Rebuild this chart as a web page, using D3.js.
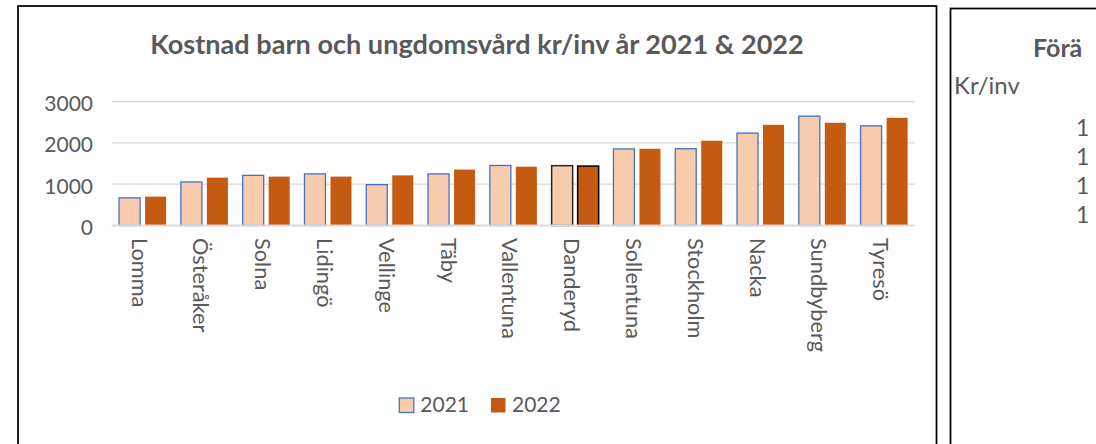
<!DOCTYPE html>
<html>
<head>
<meta charset="utf-8">
<script src="https://cdn.jsdelivr.net/npm/d3@7"></script>
<style>
  html, body { margin: 0; padding: 0; background: #ffffff; overflow: hidden; }
  svg { display: block; }
  text { font-family: Lato, "Open Sans", "Noto Sans", sans-serif; fill: #595959; }
</style>
</head>
<body>
<svg id="chart" width="1096" height="444"></svg>
<script>
// ---- data ----
const categories = ["Lomma","Österåker","Solna","Lidingö","Vellinge","Täby","Vallentuna","Danderyd","Sollentuna","Stockholm","Nacka","Sundbyberg","Tyresö"];
const series2021 = [670, 1055, 1215, 1250, 990, 1250, 1455, 1450, 1855, 1860, 2240, 2650, 2415];
const series2022 = [700, 1160, 1185, 1185, 1215, 1355, 1425, 1440, 1860, 2055, 2440, 2490, 2610];
const seriesNames = ["2021", "2022"];
const yTicks = [0, 1000, 2000, 3000];
const chartTitle = "Kostnad barn och ungdomsvård kr/inv år 2021 & 2022";
const highlighted = "Danderyd";
// second (cut-off) chart, visible fragments only
const rightTitle = "Förä";
const rightAxisTitle = "Kr/inv";
const rightTickLabels = ["1", "1", "1", "1"];

const colors = { "2021": "#F8CBAD", "2022": "#C55A11" };
const strokes = { "2021": "#4472C4", "2022": "none" };

const svg = d3.select("#chart");

// frames
svg.append("rect").attr("x", 18).attr("y", 6).attr("width", 918.5).attr("height", 480)
  .attr("fill", "none").attr("stroke", "#000").attr("stroke-width", 1.75);
svg.append("rect").attr("x", 950.5).attr("y", 8.5).attr("width", 400).attr("height", 480)
  .attr("fill", "none").attr("stroke", "#000").attr("stroke-width", 1.75);

// scales
const x0 = d3.scaleBand().domain(categories).range([111.7, 915]).paddingInner(0).paddingOuter(0);
const x1 = d3.scaleBand().domain(seriesNames).range([0, x0.bandwidth()]).paddingInner(0.192).paddingOuter(0.284);
const y = d3.scaleLinear().domain([0, 3000]).range([225.5, 101.7]);

// gridlines
svg.append("g").selectAll("line").data(yTicks.filter(d => d !== 0)).join("line")
  .attr("x1", 111.7).attr("x2", 915)
  .attr("y1", d => y(d)).attr("y2", d => y(d))
  .attr("stroke", "#D9D9D9").attr("stroke-width", 1.25);

// y axis labels
const yAxis = d3.axisLeft(y).tickValues(yTicks).tickSize(0).tickPadding(0).tickFormat(d3.format("d"));
const ya = svg.append("g").attr("transform", "translate(93,0)").call(yAxis);
ya.select(".domain").remove();
ya.selectAll("text").attr("font-size", 21).attr("fill", "#595959")
  .attr("font-family", "Lato, 'Open Sans', sans-serif").attr("dy", "0.43em");

// bars
const rows = categories.map((c, i) => ({ cat: c, vals: [
  { key: "2021", v: series2021[i] }, { key: "2022", v: series2022[i] } ] }));
const groups = svg.append("g").selectAll("g").data(rows).join("g")
  .attr("transform", d => `translate(${x0(d.cat)},0)`);
groups.selectAll("rect").data(d => d.vals.map(v => ({ ...v, cat: d.cat }))).join("rect")
  .attr("x", d => x1(d.key))
  .attr("width", x1.bandwidth())
  .attr("y", d => y(d.v))
  .attr("height", d => y(0) - y(d.v))
  .attr("fill", d => colors[d.key])
  .attr("stroke", d => d.cat === highlighted ? (d.key === "2021" ? "#262626" : "#000") : strokes[d.key])
  .attr("stroke-width", d => d.cat === highlighted ? 1.5 : 1.3);

// baseline
svg.append("line").attr("x1", 111.7).attr("x2", 915).attr("y1", y(0)).attr("y2", y(0))
  .attr("stroke", "#D9D9D9").attr("stroke-width", 2);

// category labels (rotated)
const xAxis = d3.axisBottom(x0).tickSize(0).tickPadding(0);
const xa = svg.append("g").attr("transform", "translate(0,238)").call(xAxis);
xa.select(".domain").remove();
xa.selectAll(".tick text")
  .attr("font-size", 21.8).attr("fill", "#595959")
  .attr("font-family", "Lato, 'Open Sans', sans-serif")
  .attr("text-anchor", "start")
  .attr("transform", "rotate(90)")
  .attr("x", 0).attr("y", 11).attr("dy", null);

// title
const t = svg.append("text").attr("x", 477).attr("y", 54).attr("text-anchor", "middle")
  .attr("font-size", 23).attr("font-weight", "bold").text(chartTitle);
const tw = t.node().getComputedTextLength();
t.attr("font-size", 23 * 654 / tw);

// legend
const leg = svg.append("g");
const legX = [399.3, 491];
seriesNames.forEach((s, i) => {
  leg.append("rect").attr("x", legX[i]).attr("y", 398).attr("width", 14.5).attr("height", 14.5)
    .attr("fill", colors[s]).attr("stroke", strokes[s]).attr("stroke-width", 1.3);
  leg.append("text").attr("x", legX[i] + 21).attr("y", 412.3).attr("font-size", 21).text(s);
});

// right cut-off chart fragments
svg.append("text").attr("x", 1033).attr("y", 57).attr("font-size", 25).attr("font-weight", "bold").text(rightTitle);
svg.append("text").attr("x", 954).attr("y", 94).attr("font-size", 24).text(rightAxisTitle);
svg.append("g").selectAll("text").data(rightTickLabels).join("text")
  .attr("x", 1076).attr("y", (d, i) => 136 + i * 29).attr("font-size", 23).text(d => d);
</script>
</body>
</html>
